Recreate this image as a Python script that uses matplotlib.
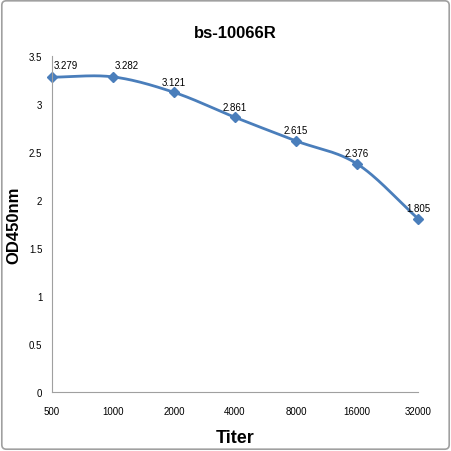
import numpy as np
import matplotlib
matplotlib.use("Agg")
import matplotlib.pyplot as plt
from matplotlib.patches import FancyBboxPatch

titers = ["500", "1000", "2000", "4000", "8000", "16000", "32000"]
od450 = [3.279, 3.282, 3.121, 2.861, 2.615, 2.376, 1.805]
yticks = [0, 0.5, 1, 1.5, 2, 2.5, 3, 3.5]

line_color = "#4a7ebb"
plt.rcParams['font.family'] = ['Liberation Sans', 'DejaVu Sans']


def smooth(xs, ys, n=30):
    # catmull-rom through the points, roughly like excel's smoothed line
    xs = np.asarray(xs, float)
    ys = np.asarray(ys, float)
    px = np.concatenate([[2 * xs[0] - xs[1]], xs, [2 * xs[-1] - xs[-2]]])
    py = np.concatenate([[2 * ys[0] - ys[1]], ys, [2 * ys[-1] - ys[-2]]])
    outx, outy = [], []
    t = np.linspace(0, 1, n)
    for i in range(1, len(px) - 2):
        for p, out in ((px, outx), (py, outy)):
            p0, p1, p2, p3 = p[i - 1], p[i], p[i + 1], p[i + 2]
            out.extend(0.5 * ((2 * p1) + (-p0 + p2) * t
                              + (2 * p0 - 5 * p1 + 4 * p2 - p3) * t ** 2
                              + (-p0 + 3 * p1 - 3 * p2 + p3) * t ** 3))
    return np.array(outx), np.array(outy)


fig = plt.figure(figsize=(4.51, 4.52), dpi=100)
fig.patch.set_facecolor("white")
fig.patches.append(FancyBboxPatch((0.004, 0.004), 0.992, 0.992,
                                  boxstyle="round,pad=0,rounding_size=0.01",
                                  transform=fig.transFigure, fill=False,
                                  edgecolor="#a0a0a0", linewidth=1.2))

ax = fig.add_axes([0.1153, 0.1305, 0.927 - 0.1153, 0.874 - 0.1305])
x = np.arange(len(titers))
sx, sy = smooth(x, od450)
ax.plot(sx, sy, color=line_color, linewidth=2, clip_on=False)
ax.plot(x, od450, linestyle="none", marker="D", markersize=5,
        color=line_color, clip_on=False)

for i, v in enumerate(od450):
    if i < 2:
        ax.annotate(f"{v:.3f}", (i, v), xytext=(1, 5), textcoords="offset points",
                    ha="left", va="bottom", fontsize=7)
    else:
        ax.annotate(f"{v:.3f}", (i, v), xytext=(0, 4), textcoords="offset points",
                    ha="center", va="bottom", fontsize=7)

ax.set_xlim(0, len(titers) - 1)
ax.set_ylim(0, 3.5)
ax.set_xticks(x)
ax.set_xticklabels(titers)
ax.set_yticks(yticks)
ax.set_yticklabels([f"{t:g}" for t in yticks])
ax.tick_params(length=0, labelsize=7, pad=10)
ax.tick_params(axis="y", pad=7)
for s in ["top", "right"]:
    ax.spines[s].set_visible(False)
for s in ["left", "bottom"]:
    ax.spines[s].set_color("#a0a0a0")

ax.set_title("bs-10066R", fontsize=12, fontweight="bold", pad=14)
ax.set_xlabel("Titer", fontsize=13, fontweight="bold")
ax.xaxis.set_label_coords(0.5, -0.11)
ax.set_ylabel("OD450nm", fontsize=12, fontweight="bold")
ax.yaxis.set_label_coords(-0.085, 0.5)

fig.savefig("out.png", dpi=100)
